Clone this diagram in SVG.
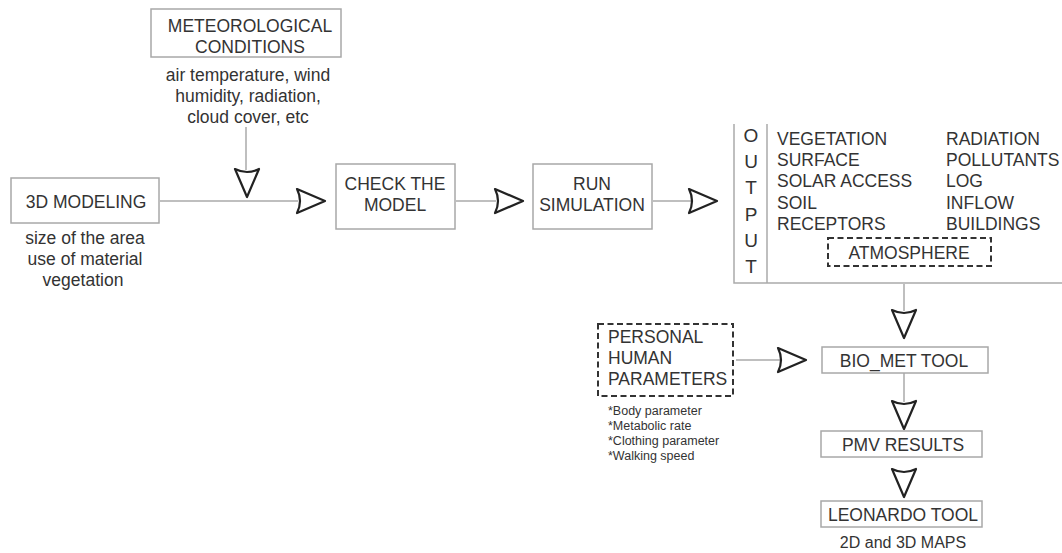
<svg xmlns="http://www.w3.org/2000/svg" xmlns:xlink="http://www.w3.org/1999/xlink" width="1062" height="553" viewBox="0 0 1062 553">
<style>
text{font-family:"Liberation Sans",Arial,sans-serif;fill:#333;font-size:17.5px}
.c{text-anchor:middle}
.box{fill:#fff;stroke:#a8a8a8;stroke-width:1.5}
.dash{fill:#fff;stroke:#333;stroke-width:2;stroke-dasharray:6 3.5}
.ln{stroke:#aaa;stroke-width:1.5;fill:none}
.ah{fill:#fff;stroke:#222;stroke-width:2.2;stroke-linejoin:round}
.sm{font-size:12.5px}
.big{font-size:19px}
</style>
<defs>
<path id="ah" class="ah" d="M-28,-12 L0,0 L-28,12 Q-22,0 -28,-12 Z"/>
</defs>
<rect width="1062" height="553" fill="#fff"/>
<g id="connectors">
<line class="ln" x1="246" y1="127" x2="246" y2="170"/>
<line class="ln" x1="160" y1="201" x2="298" y2="201"/>
<line class="ln" x1="456" y1="201" x2="496" y2="201"/>
<line class="ln" x1="653" y1="201" x2="691" y2="201"/>
<line class="ln" x1="904" y1="284" x2="904" y2="311"/>
<line class="ln" x1="736" y1="360" x2="781" y2="360"/>
<line class="ln" x1="904" y1="373" x2="904" y2="402"/>
<use href="#ah" transform="translate(247,197) rotate(90)"/>
<use href="#ah" transform="translate(325,201)"/>
<use href="#ah" transform="translate(523,201)"/>
<use href="#ah" transform="translate(717,201)"/>
<use href="#ah" transform="translate(904,338) rotate(90)"/>
<use href="#ah" transform="translate(806,360)"/>
<use href="#ah" transform="translate(904,429) rotate(90)"/>
<use href="#ah" transform="translate(904,497) rotate(90)"/>
</g>
<g id="meteorological">
<rect class="box" x="151" y="9" width="190" height="48"/>
<text class="c" x="250" y="32">METEOROLOGICAL</text>
<text class="c" x="250" y="53">CONDITIONS</text>
<text class="c" x="248" y="81">air temperature, wind</text>
<text class="c" x="248" y="102">humidity, radiation,</text>
<text class="c" x="248" y="123">cloud cover, etc</text>
</g>
<g id="modeling">
<rect class="box" x="11" y="178" width="148" height="45"/>
<text class="c" x="86" y="208">3D MODELING</text>
<text class="c" x="85" y="244">size of the area</text>
<text class="c" x="85" y="265">use of material</text>
<text class="c" x="83" y="286">vegetation</text>
</g>
<g id="check">
<rect class="box" x="336" y="164" width="119" height="65"/>
<text class="c" x="395" y="190">CHECK THE</text>
<text class="c" x="395" y="211">MODEL</text>
</g>
<g id="run">
<rect class="box" x="533" y="164" width="119" height="65"/>
<text class="c" x="592" y="190">RUN</text>
<text class="c" x="592" y="211">SIMULATION</text>
</g>
<g id="output">
<path class="ln" d="M734,124 V283 H1062 M767,124 V283"/>
<text class="c big" x="751" y="142">O</text>
<text class="c big" x="751" y="168">U</text>
<text class="c big" x="751" y="194">T</text>
<text class="c big" x="751" y="221">P</text>
<text class="c big" x="751" y="247">U</text>
<text class="c big" x="751" y="273">T</text>
<text x="777" y="145">VEGETATION</text>
<text x="777" y="166">SURFACE</text>
<text x="777" y="187">SOLAR ACCESS</text>
<text x="777" y="209">SOIL</text>
<text x="777" y="230">RECEPTORS</text>
<text x="946" y="145">RADIATION</text>
<text x="946" y="166">POLLUTANTS</text>
<text x="946" y="187">LOG</text>
<text x="946" y="209">INFLOW</text>
<text x="946" y="230">BUILDINGS</text>
<rect class="dash" x="828" y="238" width="163" height="28"/>
<text class="c" x="909" y="259">ATMOSPHERE</text>
</g>
<g id="personal">
<rect class="dash" x="598" y="324" width="135" height="72"/>
<text x="608" y="343">PERSONAL</text>
<text x="608" y="364">HUMAN</text>
<text x="608" y="385">PARAMETERS</text>
<text class="sm" x="608" y="415">*Body parameter</text>
<text class="sm" x="608" y="430">*Metabolic rate</text>
<text class="sm" x="608" y="445">*Clothing parameter</text>
<text class="sm" x="608" y="460">*Walking speed</text>
</g>
<g id="biomet">
<rect class="box" x="822" y="347" width="166" height="26"/>
<text class="c" x="904" y="367">BIO_MET TOOL</text>
</g>
<g id="pmv">
<rect class="box" x="821" y="431" width="161" height="26"/>
<text class="c" x="903" y="451">PMV RESULTS</text>
</g>
<g id="leonardo">
<rect class="box" x="821" y="501" width="161" height="26"/>
<text class="c" x="903" y="521">LEONARDO TOOL</text>
<text class="c" x="903" y="548" style="font-size:16px">2D and 3D MAPS</text>
</g>
</svg>
